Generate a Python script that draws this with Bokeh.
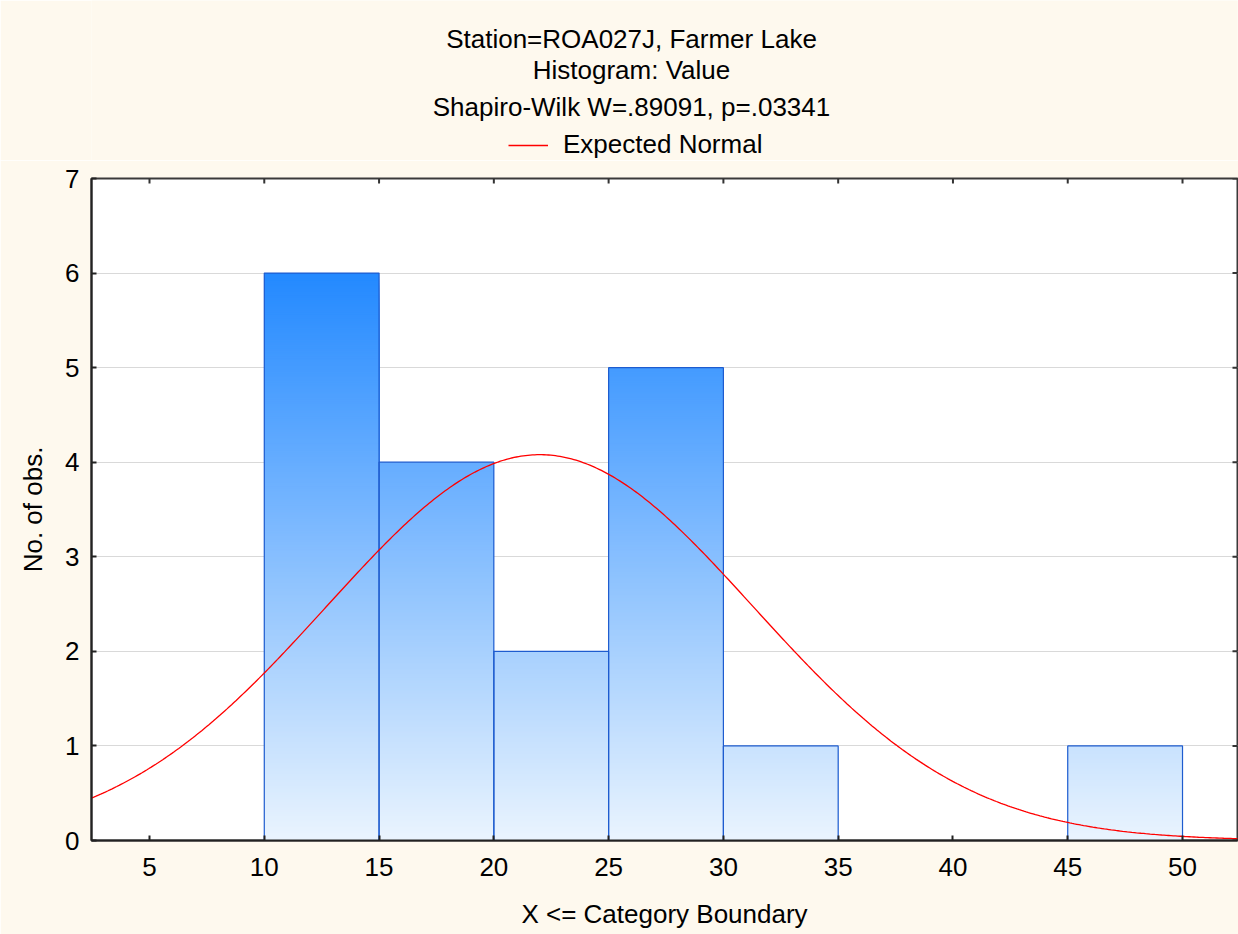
import numpy as np
from bokeh.plotting import figure
from bokeh.layouts import column
from bokeh.models import Range1d, FixedTicker, Legend, LegendItem
from bokeh.core.properties import value
from bokeh.embed import file_html
from bokeh.resources import INLINE

# ---------------- data ----------------
bin_upper = [5, 10, 15, 20, 25, 30, 35, 40, 45, 50]   # X <= category boundary
counts = [0, 0, 6, 4, 2, 5, 1, 0, 0, 1]
bin_width = 5
mean_value = 22.0
sd_value = 9.29
x_ticks = [5, 10, 15, 20, 25, 30, 35, 40, 45, 50]
y_ticks = [0, 1, 2, 3, 4, 5, 6, 7]
title_lines = ["Station=ROA027J, Farmer Lake", "Histogram: Value",
               "Shapiro-Wilk W=.89091, p=.03341"]
legend_label = "Expected Normal"
x_label = "X <= Category Boundary"
y_label = "No. of obs."

# ---------------- layout ----------------
FONT = "Liberation Sans"
BG = "#FEF9EE"
W, H = 1238, 934
HEAD = 160                      # header height (titles + legend)
FL, FR, FT, FB = 91, 1237, 178, 840
px_per_x = 22.956
x0 = 5 - (149 - FL) / px_per_x
x1 = x0 + (FR - FL) / px_per_x
y0, y1 = 0, 7
px_per_y = (FB - FT) / (y1 - y0)
TICK = 5
n_obs = sum(counts)
xs = np.linspace(x0, x1, 500)
ys = n_obs * bin_width / (sd_value * np.sqrt(2 * np.pi)) * np.exp(-0.5 * ((xs - mean_value) / sd_value) ** 2)

# ---------------- header figure (titles and legend), in page pixels ----------------
head = figure(width=W, height=HEAD, x_range=Range1d(FL, FR), y_range=Range1d(HEAD, 0),
              output_backend="svg", toolbar_location=None,
              x_axis_type=None, y_axis_type=None,
              min_border_left=FL, min_border_right=W - FR, min_border_top=0, min_border_bottom=0,
              background_fill_color=BG, border_fill_color=BG, outline_line_color=None)
head.xgrid.visible = False
head.ygrid.visible = False
head.text(x=[631] * len(title_lines), y=[38.2, 69.8, 106.2], text=title_lines,
          text_align="center", text_baseline="alphabetic",
          text_font=value(FONT), text_font_size="26px", text_color="black")
sample = head.line(xs, ys, line_color="#FF0000", line_width=1.3, visible=False)
legend = Legend(items=[LegendItem(label=legend_label, renderers=[sample])],
                location=(508 - FL, 0), orientation="horizontal",
                label_text_font=FONT, label_text_font_size="26px", label_text_color="black",
                glyph_width=40, glyph_height=28, label_standoff=15,
                padding=0, margin=0, border_line_alpha=0, background_fill_alpha=0,
                inactive_fill_alpha=0, click_policy="none")
head.add_layout(legend)

# ---------------- main figure ----------------
p = figure(width=W, height=H - HEAD, x_range=Range1d(x0, x1), y_range=Range1d(y0, y1),
           output_backend="svg", toolbar_location=None,
           min_border_left=FL, min_border_right=W - FR,
           min_border_top=FT - HEAD, min_border_bottom=H - FB,
           background_fill_color="white", border_fill_color=BG,
           outline_line_color="#3a3a3a", outline_line_width=2)

p.xgrid.visible = False
p.ygrid.ticker = FixedTicker(ticks=y_ticks)
p.ygrid.grid_line_color = "#D9D9D9"
p.ygrid.grid_line_width = 1.2

# gradient bars: nested quads from 0 up to each level, tallest drawn first
top_rgb = np.array([35, 137, 255])
bot_rgb = np.array([234, 244, 254])
cmax = max(counts)
dy = 0.02
L, R, B, T, C = [], [], [], [], []
for up, c in zip(bin_upper, counts):
    n = int(round(c / dy))
    for k in range(n, 0, -1):
        t = min(k * dy, c)
        frac = (t - dy / 2) / cmax
        rgb = bot_rgb + (top_rgb - bot_rgb) * frac
        L.append(up - bin_width); R.append(up); B.append(0); T.append(t)
        C.append("#%02x%02x%02x" % tuple(int(round(v)) for v in rgb))
p.quad(left=L, right=R, bottom=B, top=T, fill_color=C, line_color=None)

nz = [(u, c) for u, c in zip(bin_upper, counts) if c > 0]
p.quad(left=[u - bin_width for u, c in nz], right=[u for u, c in nz],
       bottom=0, top=[c for u, c in nz], fill_alpha=0,
       line_color="#1E5CCF", line_width=1.2)

# expected normal curve
p.line(xs, ys, line_color="#FF0000", line_width=1.3)

# inner tick marks on the top and right frame edges
p.segment(x0=x_ticks, y0=y1, x1=x_ticks, y1=y1 - TICK / px_per_y,
          line_color="#333333", line_width=2)
p.segment(x0=x1 - TICK / px_per_x, y0=y_ticks, x1=x1, y1=y_ticks,
          line_color="#333333", line_width=2)

# axes
for ax, ticks, lab in ((p.xaxis[0], x_ticks, x_label), (p.yaxis[0], y_ticks, y_label)):
    ax.ticker = FixedTicker(ticks=ticks)
    ax.major_tick_in = TICK
    ax.major_tick_out = 0
    ax.minor_tick_line_color = None
    ax.axis_line_color = "#222222"
    ax.axis_line_width = 2
    ax.major_tick_line_color = "#222222"
    ax.major_tick_line_width = 2
    ax.major_label_text_font = FONT
    ax.major_label_text_font_size = "26px"
    ax.major_label_text_color = "black"
    ax.axis_label = lab
    ax.axis_label_text_font = FONT
    ax.axis_label_text_font_size = "26px"
    ax.axis_label_text_font_style = "normal"
    ax.axis_label_text_color = "black"
p.xaxis[0].major_label_standoff = 17
p.xaxis[0].axis_label_standoff = 20
p.yaxis[0].major_label_standoff = 12
p.yaxis[0].axis_label_standoff = 14

open("out.html", "w").write(file_html(column(head, p, spacing=0), INLINE))
